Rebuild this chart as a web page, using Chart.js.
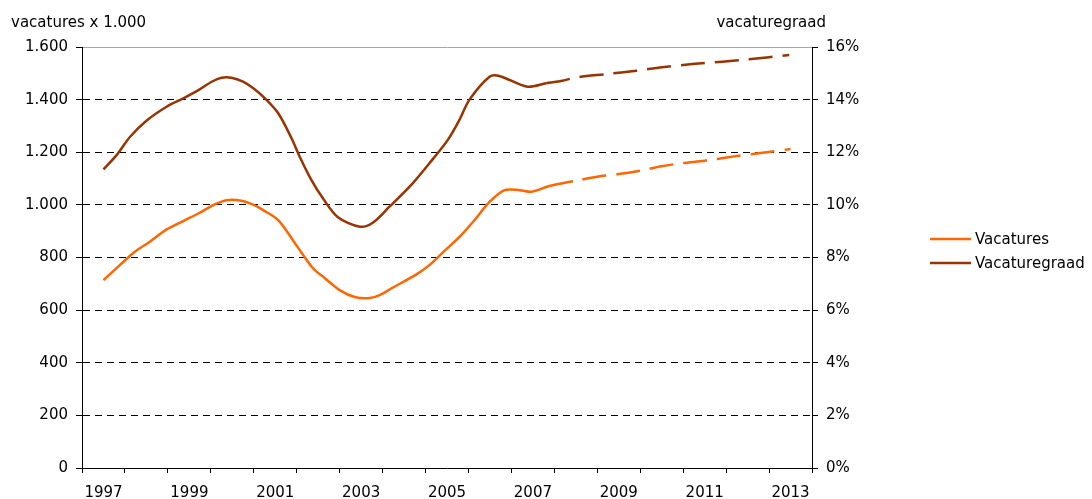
<!DOCTYPE html>
<html>
<head>
<meta charset="utf-8">
<script src="https://cdn.jsdelivr.net/npm/chart.js@4.4.1/dist/chart.umd.min.js"></script>
<style>
  html, body { margin: 0; padding: 0; background: #fff; }
  #wrap { width: 1092px; height: 499px; }
</style>
</head>
<body>
<div id="wrap"><canvas id="chart" width="1092" height="499"></canvas></div>
<script>
// vacatures x 1.000 (solid = realisatie, dashed = raming)
const vacYears = [1997.50, 1997.88, 1998.23, 1998.58, 1998.97, 1999.40, 1999.74, 2000.09, 2000.37, 2000.71,
                  2001.00, 2001.22, 2001.57, 2001.99, 2002.38, 2002.65, 2003.00, 2003.35, 2003.70, 2003.93,
                  2004.23, 2004.78, 2005.09, 2005.44, 2005.79, 2006.14, 2006.49, 2006.84, 2007.20, 2007.47,
                  2007.88, 2008.50, 2009.00, 2009.50, 2010.00, 2010.50, 2011.00, 2011.50, 2012.25, 2012.85,
                  2013.50];
const vacValues = [714, 771, 822, 860, 907, 942, 970, 1002, 1018, 1016,
                   1000, 980, 942, 847, 759, 722, 676, 650, 646, 657,
                   685, 735, 771, 825, 878, 942, 1011, 1056, 1056, 1050,
                   1072, 1092, 1107, 1117, 1130, 1147, 1159, 1168, 1186, 1198,
                   1212];

// vacaturegraad in %
const graadYears = [1997.50, 1997.81, 1998.12, 1998.50, 1998.97, 1999.36, 1999.74, 2000.02, 2000.25, 2000.48,
                    2000.75, 2000.99, 2001.26, 2001.57, 2001.88, 2002.07, 2002.34, 2002.61, 2002.96, 2003.47,
                    2003.77, 2004.16, 2004.70, 2005.09, 2005.52, 2005.79, 2006.02, 2006.49, 2006.72, 2007.37,
                    2007.81, 2008.19, 2008.53, 2009.21, 2009.91, 2010.51, 2011.21, 2011.91, 2012.53, 2013.47];
const graadValues = [11.35, 11.9, 12.59, 13.2, 13.73, 14.05, 14.39, 14.68, 14.83, 14.83,
                     14.68, 14.43, 14.05, 13.48, 12.53, 11.83, 10.95, 10.25, 9.53, 9.17,
                     9.32, 9.93, 10.82, 11.58, 12.47, 13.23, 13.99, 14.87, 14.9, 14.49,
                     14.62, 14.72, 14.85, 14.97, 15.1, 15.23, 15.35, 15.44, 15.53, 15.7];

const forecastFrom = 2007.8;
const leftTitle = 'vacatures x 1.000';
const rightTitle = 'vacaturegraad';

Chart.defaults.font.family = '"DejaVu Sans", sans-serif';
Chart.defaults.font.size = 15;
Chart.defaults.color = '#000';

function formatThousands(v) {
    if (v >= 1000) {
        return Math.floor(v / 1000) + '.' + String(v % 1000).padStart(3, '0');
    }
    return String(v);
}

const dashedForecast = {
    borderDash: ctx => ctx.p0.parsed.x >= forecastFrom ? [24, 10] : undefined
};

// axis titles and legend drawn next to the plot
const sideText = {
    id: 'sideText',
    afterDraw(chart) {
        const { ctx, chartArea } = chart;
        ctx.save();
        ctx.font = '15px "DejaVu Sans", sans-serif';
        ctx.fillStyle = '#000';
        ctx.textBaseline = 'alphabetic';
        ctx.textAlign = 'left';
        ctx.fillText(leftTitle, 11, 27);
        ctx.textAlign = 'right';
        ctx.fillText(rightTitle, chartArea.right + 14, 27);

        chart.data.datasets.forEach((ds, i) => {
            const y = 239 + i * 24;
            ctx.strokeStyle = ds.borderColor;
            ctx.lineWidth = ds.borderWidth;
            ctx.beginPath();
            ctx.moveTo(930, y);
            ctx.lineTo(971, y);
            ctx.stroke();
            ctx.textAlign = 'left';
            ctx.textBaseline = 'middle';
            ctx.fillText(ds.label, 975, y + 1);
        });
        ctx.restore();
    }
};

const ctx = document.getElementById('chart').getContext('2d');
new Chart(ctx, {
    type: 'line',
    data: {
        datasets: [
            {
                label: 'Vacatures',
                data: vacYears.map((x, i) => ({ x: x, y: vacValues[i] })),
                borderColor: '#ff6600',
                backgroundColor: '#ff6600',
                borderWidth: 2.5,
                pointRadius: 0,
                tension: 0.3,
                yAxisID: 'y',
                segment: dashedForecast
            },
            {
                label: 'Vacaturegraad',
                data: graadYears.map((x, i) => ({ x: x, y: graadValues[i] })),
                borderColor: '#993300',
                backgroundColor: '#993300',
                borderWidth: 2.5,
                pointRadius: 0,
                tension: 0.3,
                yAxisID: 'y1',
                segment: dashedForecast
            }
        ]
    },
    options: {
        responsive: false,
        animation: false,
        layout: {
            padding: { top: 47, left: 0, right: 0, bottom: 0 }
        },
        plugins: {
            legend: { display: false },
            tooltip: { enabled: false }
        },
        scales: {
            x: {
                type: 'linear',
                min: 1997,
                max: 2014,
                ticks: {
                    stepSize: 1,
                    autoSkip: false,
                    maxRotation: 0,
                    labelOffset: 21.5,
                    padding: 11,
                    color: '#000',
                    callback: v => (v % 2 === 1 && v < 2014) ? String(v) : ''
                },
                grid: {
                    drawOnChartArea: false,
                    drawTicks: true,
                    tickLength: 5,
                    tickColor: '#000'
                },
                border: { color: '#000', width: 1 },
                afterFit: s => { s.height = 31; }
            },
            y: {
                position: 'left',
                min: 0,
                max: 1600,
                ticks: {
                    stepSize: 200,
                    padding: 8,
                    color: '#000',
                    callback: v => formatThousands(v)
                },
                grid: {
                    color: c => {
                        if (!c.tick) return '#000';
                        if (c.tick.value === 1600) return '#a6a6a6';
                        if (c.tick.value === 0) return 'rgba(0,0,0,0)';
                        return '#000';
                    },
                    lineWidth: 1,
                    tickLength: 6,
                    tickColor: '#000',
                    tickBorderDash: []
                },
                border: {
                    color: '#000',
                    dash: c => (c.tick && c.tick.value !== 1600) ? [7, 5] : []
                },
                afterFit: s => { s.width = 82; }
            },
            y1: {
                position: 'right',
                min: 0,
                max: 16,
                ticks: {
                    stepSize: 2,
                    padding: 8,
                    color: '#000',
                    callback: v => v + '%'
                },
                grid: {
                    drawOnChartArea: false,
                    tickLength: 6,
                    tickColor: '#000'
                },
                border: { color: '#000' },
                afterFit: s => { s.width = 280; }
            }
        }
    },
    plugins: [sideText]
});
</script>
</body>
</html>
